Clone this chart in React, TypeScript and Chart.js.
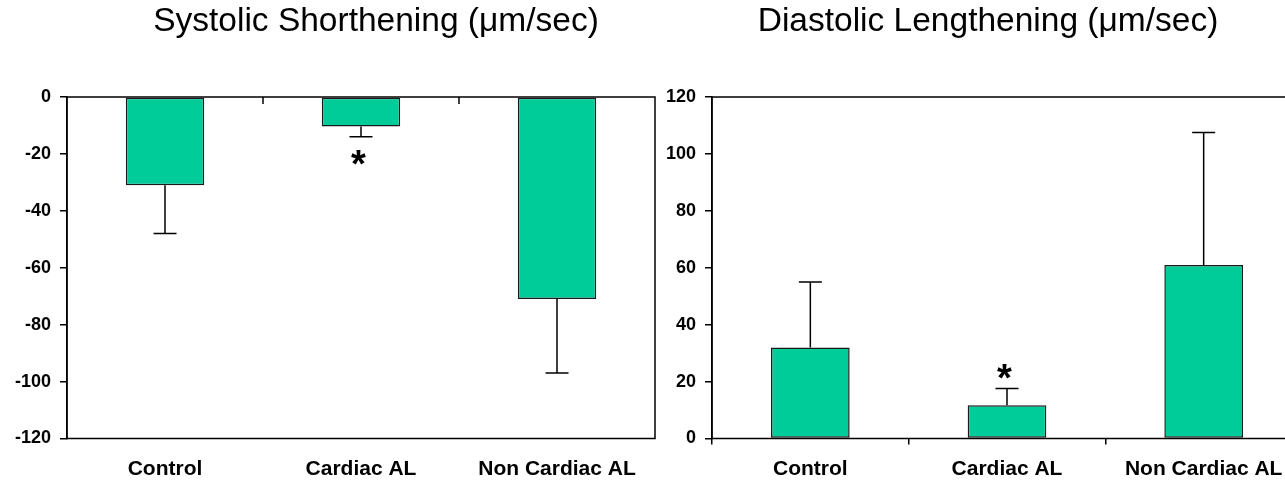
import React, { useEffect, useRef } from 'react';
import { Chart, registerables } from 'chart.js';

Chart.register(...registerables);

const categories = ['Control', 'Cardiac AL', 'Non Cardiac AL'];
const systolicMeans = [-31, -10.4, -71];
const systolicErrors = [17, 3.6, 26];
const diastolicMeans = [32, 11.7, 61];
const diastolicErrors = [23, 5.9, 46.5];
const significant = [false, true, false];
const systolicRange = [-120, 0];
const diastolicRange = [0, 120];
const tickStep = 20;

const FONT = '"Liberation Sans", Arial, Helvetica, sans-serif';
const BAR_FILL = '#00CC99';
const BAR_EDGE = '#1a1a1a';

function makeDecor(errors: number[], stars: boolean[], starGap: number, topInnerTicks: boolean) {
  return {
    id: 'decor',
    afterDatasetsDraw(chart: any) {
      const ctx = chart.ctx;
      const { left, right, top, bottom } = chart.chartArea;
      const ys = chart.scales.y;
      const xs = chart.scales.x;
      const meta = chart.getDatasetMeta(0);
      const data = chart.data.datasets[0].data as number[];
      ctx.save();
      ctx.strokeStyle = '#000';
      ctx.fillStyle = '#000';
      ctx.lineWidth = 1.5;
      meta.data.forEach((bar: any, i: number) => {
        const v = data[i];
        const endV = v + Math.sign(v) * errors[i];
        const y0 = ys.getPixelForValue(v);
        const y1 = ys.getPixelForValue(endV);
        ctx.beginPath();
        ctx.moveTo(bar.x, y0);
        ctx.lineTo(bar.x, y1);
        ctx.moveTo(bar.x - 11.5, y1);
        ctx.lineTo(bar.x + 11.5, y1);
        ctx.stroke();
        if (stars[i]) {
          ctx.font = `bold 100px ${FONT}`;
          let m = ctx.measureText('*');
          const h100 = m.actualBoundingBoxAscent + m.actualBoundingBoxDescent;
          const size = (100 * 14.5) / h100;
          ctx.font = `bold ${size}px ${FONT}`;
          m = ctx.measureText('*');
          const asc = m.actualBoundingBoxAscent;
          const desc = m.actualBoundingBoxDescent;
          const cy = v < 0 ? y1 + starGap : y1 - starGap;
          ctx.textAlign = 'center';
          ctx.textBaseline = 'alphabetic';
          ctx.fillText('*', bar.x - 2.5, cy - (desc - asc) / 2);
        }
      });
      ctx.strokeRect(left, top, right - left, bottom - top);
      if (topInnerTicks) {
        ctx.beginPath();
        for (let i = 1; i < categories.length; i++) {
          const px = (xs.getPixelForValue(i - 1) + xs.getPixelForValue(i)) / 2;
          ctx.moveTo(px, top);
          ctx.lineTo(px, top + 7);
        }
        ctx.stroke();
      }
      ctx.restore();
    },
  };
}

function buildConfig(
  title: string,
  means: number[],
  errors: number[],
  range: number[],
  yWidth: number,
  rightSpace: number,
  negative: boolean
): any {
  return {
    type: 'bar',
    data: {
      labels: categories,
      datasets: [
        {
          data: means,
          backgroundColor: BAR_FILL,
          borderColor: BAR_EDGE,
          borderWidth: 1.5,
          borderSkipped: false,
          barPercentage: 0.4,
          categoryPercentage: 1,
        },
      ],
    },
    options: {
      responsive: false,
      animation: false,
      devicePixelRatio: 1,
      layout: { padding: 0 },
      plugins: {
        legend: { display: false },
        tooltip: { enabled: false },
        title: {
          display: true,
          text: title,
          color: '#000',
          font: { family: FONT, size: 33.5, weight: 'normal', lineHeight: 1.2 },
          padding: { top: 1.9, bottom: 54.9 },
        },
      },
      scales: {
        x: {
          position: 'bottom',
          offset: true,
          border: { display: false },
          grid: negative
            ? { display: false, drawTicks: false }
            : { display: true, drawOnChartArea: false, drawTicks: true, tickLength: 6, color: '#000', lineWidth: 1.5, offset: true },
          ticks: {
            color: '#000',
            font: { family: FONT, size: 21, weight: 'bold', lineHeight: 1.2 },
            padding: negative ? 18 : 12,
            maxRotation: 0,
            autoSkip: false,
          },
          afterFit: (s: any) => {
            s.height = 41.5;
          },
        },
        y: {
          position: 'left',
          min: range[0],
          max: range[1],
          border: { display: true, color: '#000', width: 1.5 },
          grid: { drawOnChartArea: false, drawTicks: true, tickLength: 7, color: '#000', lineWidth: 1.5 },
          ticks: {
            stepSize: tickStep,
            color: '#000',
            padding: 9,
            font: { family: FONT, size: 18, weight: 'bold' },
          },
          afterFit: (s: any) => {
            s.width = yWidth;
          },
        },
        spacer: {
          position: 'right',
          display: true,
          border: { display: false },
          grid: { display: false, drawTicks: false },
          ticks: { display: false },
          afterFit: (s: any) => {
            s.width = rightSpace;
          },
        },
      },
    },
    plugins: [makeDecor(errors, significant, negative ? 21 : 17, negative)],
  };
}

function ChartCanvas(props: { config: any; left: number; width: number }) {
  const ref = useRef<HTMLCanvasElement | null>(null);
  useEffect(() => {
    if (!ref.current) return;
    const chart = new Chart(ref.current, props.config);
    return () => chart.destroy();
  }, []);
  return (
    <canvas
      ref={ref}
      width={props.width}
      height={480}
      style={{ position: 'absolute', left: props.left, top: 0, width: props.width, height: 480 }}
    />
  );
}

export default function App() {
  const leftConfig = buildConfig(
    'Systolic Shorthening (\u03bcm/sec)',
    systolicMeans,
    systolicErrors,
    systolicRange,
    67,
    97,
    true
  );
  const rightConfig = buildConfig(
    'Diastolic Lengthening (\u03bcm/sec)',
    diastolicMeans,
    diastolicErrors,
    diastolicRange,
    58,
    20,
    false
  );
  return (
    <div
      style={{
        position: 'absolute',
        left: 0,
        top: 0,
        width: 1285,
        height: 480,
        overflow: 'hidden',
        background: '#fff',
      }}
    >
      <ChartCanvas config={leftConfig} left={0} width={752} />
      <ChartCanvas config={rightConfig} left={654} width={668} />
    </div>
  );
}
